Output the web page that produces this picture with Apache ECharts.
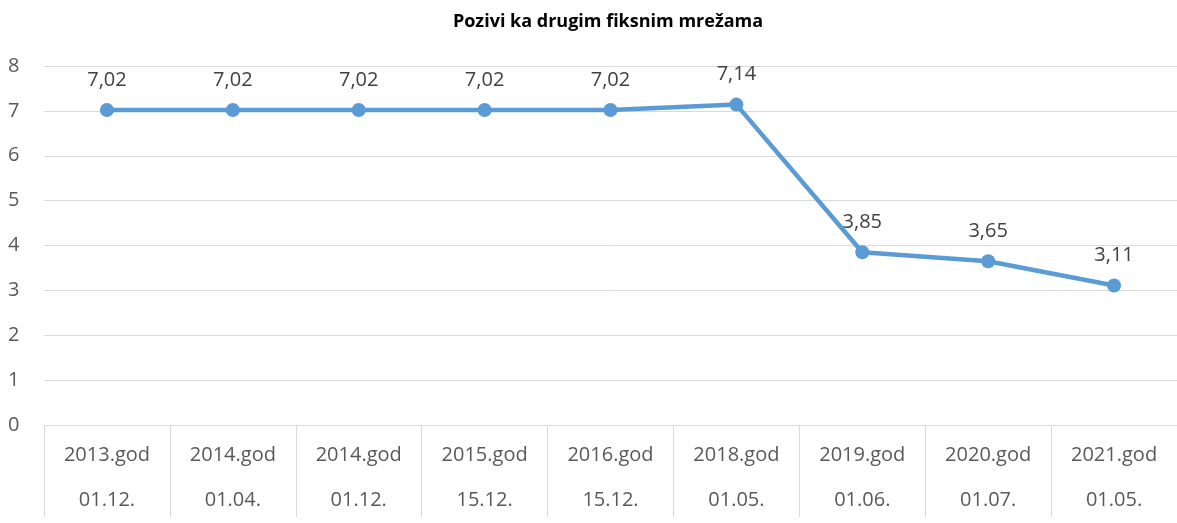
<!DOCTYPE html>
<html>
<head>
<meta charset="utf-8">
<script src="https://cdn.jsdelivr.net/npm/echarts@6/dist/echarts.min.js"></script>
<style>html,body{margin:0;padding:0;background:#fff}#c{width:1177px;height:523px}</style>
</head>
<body>
<div id="c"></div>
<script>
const years = ['2013.god','2014.god','2014.god','2015.god','2016.god','2018.god','2019.god','2020.god','2021.god'];
const dates = ['01.12.','01.04.','01.12.','15.12.','15.12.','01.05.','01.06.','01.07.','01.05.'];
const values = [7.02, 7.02, 7.02, 7.02, 7.02, 7.14, 3.85, 3.65, 3.11];
const yTicks = [0, 8, 1];

const categories = years.map((y, i) => y + '\n' + dates[i]);
const chart = echarts.init(document.getElementById('c'));
const font = 'Open Sans';
chart.setOption({
  animation: false,
  title: {
    text: 'Pozivi ka drugim fiksnim mrežama',
    left: 603, top: 8, textAlign: 'center',
    textStyle: { fontFamily: font, fontSize: 18, fontWeight: 'bold', color: '#000' }
  },
  grid: { left: 44, right: -6, top: 66, bottom: 90, containLabel: false },
  xAxis: {
    type: 'category',
    data: categories,
    boundaryGap: true,
    axisLine: { lineStyle: { color: '#d9d9d9', width: 1 } },
    axisTick: { show: true, length: 92, lineStyle: { color: '#d9d9d9' } },
    axisLabel: { fontFamily: font, fontSize: 20, color: '#595959', lineHeight: 45, margin: 8, interval: 0 }
  },
  yAxis: {
    type: 'value', min: yTicks[0], max: yTicks[1], interval: yTicks[2],
    axisLine: { show: false }, axisTick: { show: false },
    splitLine: { lineStyle: { color: '#d9d9d9', width: 1 } },
    axisLabel: { fontFamily: font, fontSize: 20, color: '#595959', align: 'left', margin: 36 }
  },
  series: [{
    type: 'line',
    data: values,
    symbol: 'circle', symbolSize: 14,
    lineStyle: { color: '#5b9bd5', width: 4.5 },
    itemStyle: { color: '#5b9bd5' },
    label: {
      show: true, position: 'top', distance: 13,
      fontFamily: font, fontSize: 20, color: '#404040',
      formatter: p => p.value.toFixed(2).replace('.', ',')
    }
  }]
});
</script>
</body>
</html>
